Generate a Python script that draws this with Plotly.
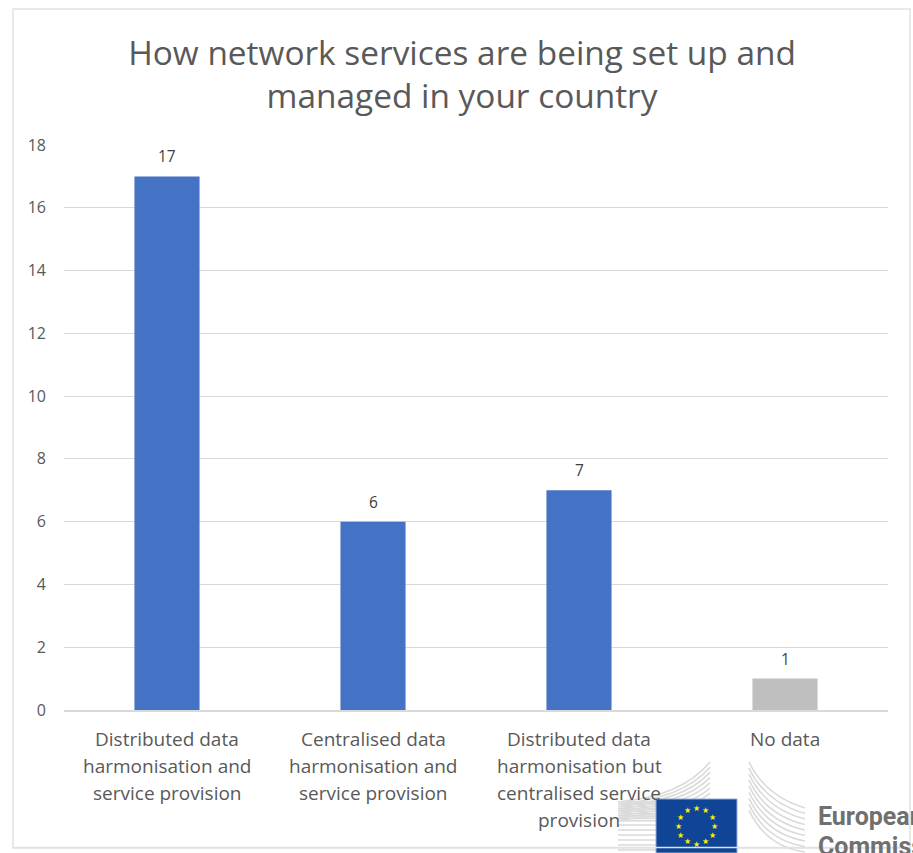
import math
import plotly.graph_objects as go

W, H = 913, 853
categories = ["Distributed data harmonisation and service provision",
              "Centralised data harmonisation and service provision",
              "Distributed data harmonisation but centralised service provision",
              "No data"]
category_lines = [["Distributed data", "harmonisation and", "service provision"],
                  ["Centralised data", "harmonisation and", "service provision"],
                  ["Distributed data", "harmonisation but", "centralised service", "provision"],
                  ["No data"]]
values = [17, 6, 7, 1]
bar_colors = ["#4472C4", "#4472C4", "#4472C4", "#BFBFBF"]
y_ticks = list(range(0, 20, 2))
title_text = "How network services are being set up and<br>managed in your country"
TEXT = "#595959"
FONT = "Open Sans"


def px(x):
    return x / W


def py(y):
    return 1 - y / H


fig = go.Figure(go.Bar(
    x=categories, y=values, marker_color=bar_colors, marker_line_width=0, width=0.316,
    cliponaxis=False,
))

annotations = []
for cat, v in zip(categories, values):
    annotations.append(dict(x=cat, y=v, xref="x", yref="y", text=str(v), showarrow=False,
                            yanchor="middle", xanchor="center", yshift=20,
                            font=dict(family=FONT, size=15.5, color="#404040")))
for cat, lines in zip(categories, category_lines):
    for i, line in enumerate(lines):
        annotations.append(dict(
            x=cat, xref="x", y=py(739 + 27 * i), yref="paper", text=line, showarrow=False,
            xanchor="center", yanchor="middle",
            font=dict(family=FONT, size=19, color=TEXT)))

shapes = [dict(type="rect", xref="paper", yref="paper", x0=px(13), x1=px(910), y0=py(9), y1=py(848),
               line=dict(color="#E2E2E2", width=1.5), fillcolor="rgba(0,0,0,0)", layer="below")]

LINE = dict(color="#DADADA", width=1.6)
# left swoosh
for i in range(9):
    d = i * 5.2
    p = (f"M {px(710)} {py(762 + d)} C {px(690)} {py(786 + d * .8)}, {px(660)} {py(798 + d * .35)}, "
         f"{px(618)} {py(802 + d * .45)} L {px(656)} {py(802 + d * .45)}")
    shapes.append(dict(type="path", xref="paper", yref="paper", path=p, line=LINE, layer="above"))
for y_ in range(825, 853, 5):
    shapes.append(dict(type="line", xref="paper", yref="paper", x0=px(618), x1=px(656), y0=py(y_), y1=py(y_),
                       line=LINE, layer="above"))
# right swoosh
for i in range(9):
    d = i * 11
    p = (f"M {px(749)} {py(762 + d * .55)} C {px(760)} {py(785 + d * .55)}, {px(778)} {py(800 + d * .55)}, "
         f"{px(805)} {py(808 + d * .5)}")
    shapes.append(dict(type="path", xref="paper", yref="paper", path=p, line=LINE, layer="above"))
# flag
shapes.append(dict(type="rect", xref="paper", yref="paper", x0=px(656), x1=px(737), y0=py(799), y1=py(853),
                   fillcolor="#0F4496", line=dict(color="#8FB0DC", width=1), layer="above"))
shapes.append(dict(type="line", xref="paper", yref="paper", x0=px(13), x1=px(910), y0=py(847.5), y1=py(847.5),
                   line=dict(color="#DCE3EC", width=1.5), layer="above"))
for k in range(12):
    a = math.radians(30 * k)
    annotations.append(dict(
        x=px(696.5 + 18 * math.sin(a)), y=py(826 - 18 * math.cos(a)), xref="paper", yref="paper",
        text="★", showarrow=False, xanchor="center", yanchor="middle",
        font=dict(family="DejaVu Sans", size=8, color="#FFED00")))
annotations.append(dict(x=px(816), y=py(816), xref="paper", yref="paper", text="<b>European</b>",
                        showarrow=False, xanchor="left", yanchor="middle",
                        font=dict(family="Roboto", size=25, color="#707070")))
annotations.append(dict(x=px(816), y=py(846), xref="paper", yref="paper", text="<b>Commission</b>",
                        showarrow=False, xanchor="left", yanchor="middle",
                        font=dict(family="Roboto", size=25, color="#707070")))

fig.update_layout(
    width=W, height=H, margin=dict(l=0, r=0, t=0, b=0, autoexpand=False),
    paper_bgcolor="white", plot_bgcolor="white", showlegend=False,
    title=dict(text=title_text, x=px(462), xanchor="center", y=py(64.5), yanchor="middle",
               font=dict(family=FONT, size=33.4, color=TEXT)),
    xaxis=dict(domain=[px(64), px(888)], showticklabels=False, showline=True, linecolor="#D9D9D9",
               linewidth=1.5, ticks="", showgrid=False, zeroline=False, range=[-0.5, 3.5]),
    yaxis=dict(domain=[py(710), py(145)], range=[0, 18], tickvals=y_ticks, showgrid=True,
               gridcolor="#D9D9D9", gridwidth=1.3, zeroline=False, showline=False, ticks="",
               ticklabelstandoff=17,
               tickfont=dict(family=FONT, size=16, color=TEXT)),
    annotations=annotations, shapes=shapes,
)
fig.write_html("out.html", config={"displayModeBar": False},
               post_script="document.body.style.margin='0';document.body.style.overflow='hidden';")
